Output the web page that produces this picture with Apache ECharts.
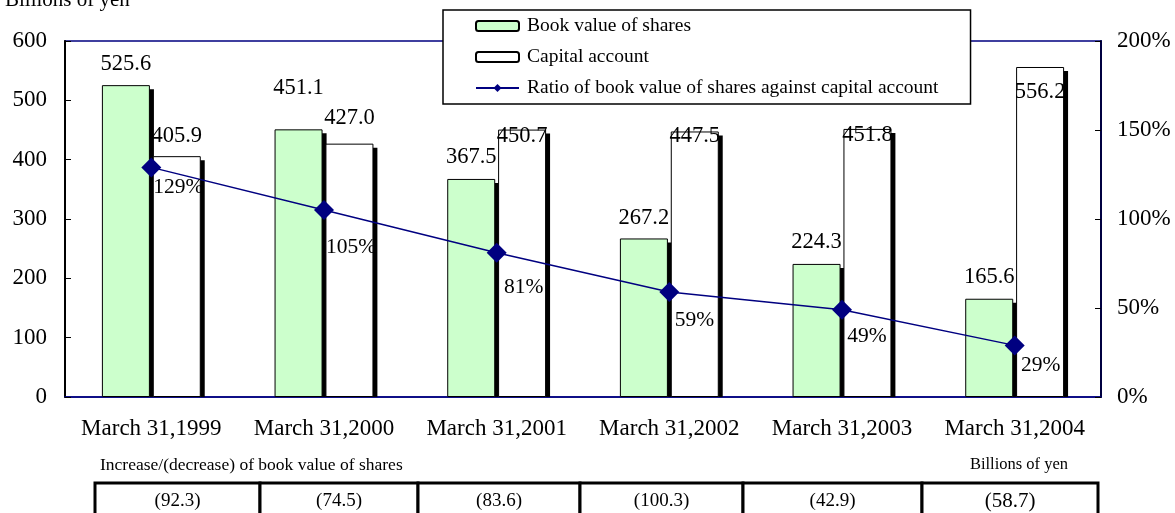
<!DOCTYPE html>
<html>
<head>
<meta charset="utf-8">
<script src="https://cdn.jsdelivr.net/npm/echarts@6/dist/echarts.min.js"></script>
<style>
html, body { margin: 0; padding: 0; background: #fff; }
#main { width: 1175px; height: 513px; }
</style>
</head>
<body>
<div id="main"></div>
<script>
// data
var categories = ['March 31,1999', 'March 31,2000', 'March 31,2001', 'March 31,2002', 'March 31,2003', 'March 31,2004'];
var bookValue = [525.6, 451.1, 367.5, 267.2, 224.3, 165.6];
var capitalAccount = [405.9, 427.0, 450.7, 447.5, 451.8, 556.2];
var ratio = [129, 105, 81, 59, 49, 29];
var bookChange = [-92.3, -74.5, -83.6, -100.3, -42.9, -58.7];

// label placement (style only)
var bookLabelDist = [10, 30, 10, 9, 10, 10];
var capLabelPos = ['top', 'top', 'insideTop', 'insideTop', 'insideTop', 'insideTop'];
var capLabelDist = [9, 14, -5, -7, -5, 14];
var ratioLabelOffset = [[27, 20], [27, 37], [27, 35], [25, 28], [25, 27], [26, 20]];
// table cell edges (layout only)
var cellEdges = [95, 260, 418, 580, 743, 922, 1098];

var FONT = '"Liberation Serif", "Times New Roman", serif';
var BAR_W = 48;
var BAR_SHIFT = 25.4;

var chart = echarts.init(document.getElementById('main'));

// thin black drop shadow on the right of each bar
function shadowSeries(values, shift) {
    return {
        type: 'custom',
        xAxisIndex: 0,
        yAxisIndex: 0,
        silent: true,
        z: 1,
        data: values.map(function (v, i) { return [i, v]; }),
        renderItem: function (params, api) {
            var base = api.coord([api.value(0), 0]);
            var top = api.coord([api.value(0), api.value(1)]);
            var right = base[0] + shift + BAR_W / 2;
            return {
                type: 'rect',
                shape: { x: right - 1, y: top[1] + 4, width: 5, height: base[1] - top[1] - 4 },
                style: { fill: '#000' }
            };
        }
    };
}

var option = {
    animation: false,
    backgroundColor: '#fff',
    textStyle: { fontFamily: FONT, color: '#000' },
    grid: [
        { left: 65, right: 74, top: 41, bottom: 116, show: true, borderColor: '#000080', borderWidth: 1.5, backgroundColor: 'transparent' }
    ],
    legend: {
        orient: 'vertical',
        left: 443,
        top: 10,
        padding: [6, 32, 6, 32],
        itemGap: 11,
        itemWidth: 43,
        itemHeight: 10,
        backgroundColor: '#fff',
        borderColor: '#000',
        borderWidth: 1.5,
        borderRadius: 0,
        textStyle: { fontFamily: FONT, fontSize: 19.5, color: '#000', padding: [0, 0, 0, 3] },
        data: ['Book value of shares', 'Capital account', 'Ratio of book value of shares against capital account']
    },
    xAxis: [
        {
            type: 'category',
            data: categories,
            axisLine: { lineStyle: { color: '#000080', width: 1.5 } },
            axisTick: { inside: true, length: 6, lineStyle: { color: '#000' } },
            axisLabel: { interval: 0, fontFamily: FONT, fontSize: 23, color: '#000', margin: 20 }
        }
    ],
    yAxis: [
        {
            type: 'value', min: 0, max: 600, interval: 100,
            axisLine: { show: true, lineStyle: { color: '#000', width: 2 } },
            axisTick: { show: true, inside: true, length: 6, lineStyle: { color: '#000' } },
            splitLine: { show: false },
            axisLabel: { fontFamily: FONT, fontSize: 23, color: '#000', margin: 18 }
        },
        {
            type: 'value', min: 0, max: 200, interval: 50, position: 'right',
            axisLine: { show: true, lineStyle: { color: '#000040', width: 2 } },
            axisTick: { show: true, inside: true, length: 6, lineStyle: { color: '#000' } },
            splitLine: { show: false },
            axisLabel: { fontFamily: FONT, fontSize: 23, color: '#000', margin: 16, formatter: '{value}%' }
        }
    ],
    series: [
        shadowSeries(bookValue, -BAR_SHIFT),
        shadowSeries(capitalAccount, BAR_SHIFT),
        {
            name: 'Book value of shares',
            type: 'bar',
            barWidth: BAR_W,
            barGap: '6%',
            itemStyle: { color: '#CCFFCC', borderColor: '#000', borderWidth: 1 },
            data: bookValue.map(function (v, i) {
                return { value: v, label: { show: true, position: 'top', distance: bookLabelDist[i] } };
            }),
            label: { fontFamily: FONT, fontSize: 22.5, color: '#000', formatter: function (p) { return p.value.toFixed(1); } }
        },
        {
            name: 'Capital account',
            type: 'bar',
            barWidth: BAR_W,
            itemStyle: { color: '#fff', borderColor: '#000', borderWidth: 1 },
            data: capitalAccount.map(function (v, i) {
                return { value: v, label: { show: true, position: capLabelPos[i], distance: capLabelDist[i] } };
            }),
            label: { fontFamily: FONT, fontSize: 22.5, color: '#000', formatter: function (p) { return p.value.toFixed(1); } }
        },
        {
            name: 'Ratio of book value of shares against capital account',
            type: 'line',
            yAxisIndex: 1,
            z: 5,
            symbol: 'diamond',
            symbolSize: 20,
            itemStyle: { color: '#000080' },
            lineStyle: { color: '#000080', width: 1.5 },
            data: ratio.map(function (v, i) {
                return { value: v, label: { show: true, position: 'inside', offset: ratioLabelOffset[i] } };
            }),
            label: { fontFamily: FONT, fontSize: 21.5, color: '#000', formatter: '{c}%' }
        },
        {
            // table of increase/(decrease)
            type: 'custom',
            coordinateSystem: 'none',
            silent: true,
            data: bookChange.map(function (v, i) { return [i, v]; }),
            renderItem: function (params, api) {
                var i = api.value(0);
                var v = api.value(1);
                var x0 = cellEdges[i], x1 = cellEdges[i + 1];
                var txt = v < 0 ? '(' + Math.abs(v).toFixed(1) + ')' : v.toFixed(1);
                return {
                    type: 'group',
                    children: [
                        { type: 'rect', shape: { x: x0, y: 483, width: x1 - x0, height: 32 },
                          style: { fill: '#fff', stroke: '#000', lineWidth: 3 } },
                        { type: 'text', style: { text: txt, x: (x0 + x1) / 2, y: 501, align: 'center', verticalAlign: 'middle',
                          font: (i === 5 ? '21px ' : '19px ') + FONT, fill: '#000' } }
                    ]
                };
            }
        }
    ],
    graphic: [
        { type: 'text', left: 5, top: -10, style: { text: 'Billions of yen', font: '21px ' + FONT, fill: '#000' } },
        { type: 'text', left: 100, top: 456, style: { text: 'Increase/(decrease) of book value of shares', font: '17.5px ' + FONT, fill: '#000' } },
        { type: 'text', right: 107, top: 456, style: { text: 'Billions of yen', font: '16.5px ' + FONT, fill: '#000' } }
    ]
};

chart.setOption(option);
</script>
</body>
</html>
